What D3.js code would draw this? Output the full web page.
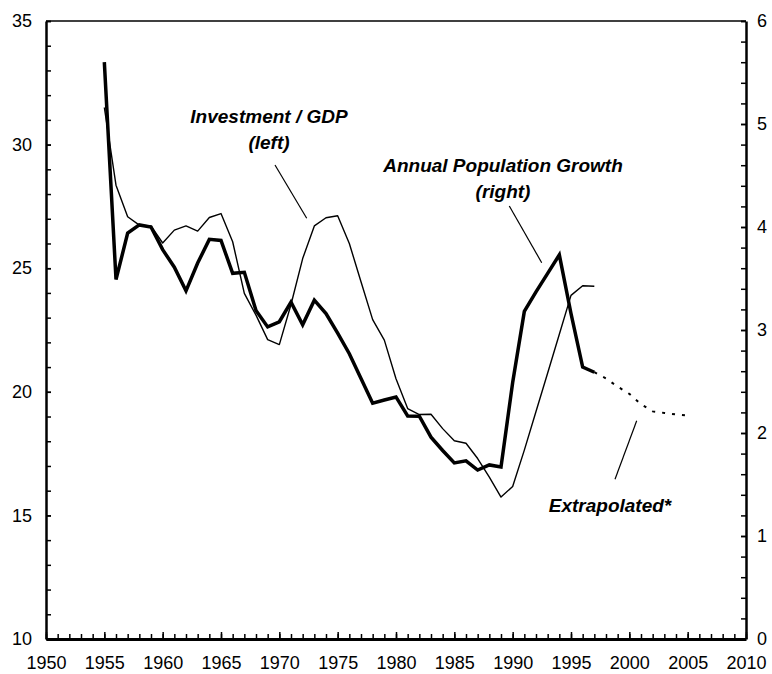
<!DOCTYPE html>
<html>
<head>
<meta charset="utf-8">
<script src="https://cdn.jsdelivr.net/npm/d3@7"></script>
<style>
  body { margin: 0; background: #fff; }
  text { font-family: "Liberation Sans", Arial, sans-serif; }
</style>
</head>
<body>
<div id="chart"></div>
<script>
// Investment / GDP vs annual population growth

const width = 772,
    height = 674,
    margin = ({ top: 21, right: 26, bottom: 35, left: 46 });

// data
const years = d3.range(1955, 1998);
const investment = [31.5, 28.36, 27.08, 26.74, 26.71, 26.02, 26.54, 26.71, 26.5, 27.05,
    27.21, 26.07, 23.98, 23.1, 22.11, 21.91, 23.53, 25.39, 26.71, 27.04,
    27.12, 26.0, 24.45, 22.92, 22.09, 20.53, 19.32, 19.08, 19.09, 18.51,
    18.02, 17.92, 17.3, 16.55, 15.74, 16.17, 17.64, 19.2, 20.76, 22.33,
    23.9, 24.29, 24.27];
const population = [5.6, 3.49, 3.94, 4.02, 4.0, 3.78, 3.61, 3.38, 3.65, 3.88,
    3.87, 3.55, 3.56, 3.19, 3.03, 3.08, 3.27, 3.05, 3.29, 3.16,
    2.97, 2.77, 2.53, 2.29, 2.32, 2.35, 2.165, 2.163, 1.96, 1.83,
    1.71, 1.73, 1.64, 1.69, 1.67, 2.49, 3.18, 3.37, 3.55, 3.73,
    3.16, 2.64, 2.59];
const extraYears = d3.range(1997, 2006);
const extrapolated = [2.59, 2.53, 2.45, 2.38, 2.28, 2.21, 2.195, 2.18, 2.17];

const xTicks = d3.range(1950, 2011, 5);
const leftTicks = [10, 15, 20, 25, 30, 35];
const rightTicks = [0, 1, 2, 3, 4, 5, 6];

const svg = d3.select("#chart")
    .append("svg")
    .attr("width", width)
    .attr("height", height);

const x = d3.scaleLinear()
    .domain([1950, 2010])
    .range([margin.left, width - margin.right]);

const yL = d3.scaleLinear()
    .domain([10, 35])
    .range([height - margin.bottom, margin.top]);

const yR = d3.scaleLinear()
    .domain([0, 6])
    .range([height - margin.bottom, margin.top]);

// top frame line
svg.append("line")
    .attr("x1", x(1950)).attr("x2", x(2010))
    .attr("y1", yL(35)).attr("y2", yL(35))
    .attr("stroke", "#000")
    .attr("stroke-width", 1.5);

function styleAxis(g, w) {
    g.select(".domain").attr("stroke-width", w);
    g.selectAll(".tick line").attr("stroke-width", 1.5);
    g.selectAll("text").attr("font-size", 18).attr("fill", "#000");
}

// left axis: minor ticks then labelled majors
svg.append("g")
    .attr("transform", `translate(${x(1950)},0)`)
    .call(d3.axisLeft(yL).tickValues(d3.range(10, 36)).tickSize(-5).tickSizeOuter(0).tickFormat(""))
    .call(g => styleAxis(g, 2.5));
svg.append("g")
    .attr("transform", `translate(${x(1950)},0)`)
    .call(d3.axisLeft(yL).tickValues(leftTicks).tickSize(-5).tickPadding(14).tickFormat(d3.format("d")))
    .call(g => g.select(".domain").remove())
    .call(g => styleAxis(g, 2.5));

// right axis
svg.append("g")
    .attr("transform", `translate(${x(2010)},0)`)
    .call(d3.axisRight(yR).tickValues(d3.range(0, 6.01, 0.2)).tickSize(-5).tickSizeOuter(0).tickFormat(""))
    .call(g => styleAxis(g, 2.5));
svg.append("g")
    .attr("transform", `translate(${x(2010)},0)`)
    .call(d3.axisRight(yR).tickValues(rightTicks).tickSize(-5).tickPadding(11).tickFormat(d3.format("d")))
    .call(g => g.select(".domain").remove())
    .call(g => styleAxis(g, 2.5));

// bottom axis
svg.append("g")
    .attr("transform", `translate(0,${yL(10)})`)
    .call(d3.axisBottom(x).tickValues(d3.range(1950, 2011)).tickSize(-5).tickSizeOuter(0).tickFormat(""))
    .call(g => styleAxis(g, 3));
svg.append("g")
    .attr("transform", `translate(0,${yL(10)})`)
    .call(d3.axisBottom(x).tickValues(xTicks).tickSize(-7).tickPadding(17).tickFormat(d3.format("d")))
    .call(g => g.select(".domain").remove())
    .call(g => styleAxis(g, 3));

// lines
const invLine = d3.line()
    .x((d, i) => x(years[i]))
    .y(d => yL(d));

const popLine = d3.line()
    .x((d, i) => x(years[i]))
    .y(d => yR(d));

const extLine = d3.line()
    .x((d, i) => x(extraYears[i]))
    .y(d => yR(d));

svg.append("path")
    .datum(investment)
    .attr("d", invLine)
    .attr("fill", "none")
    .attr("stroke", "#000")
    .attr("stroke-width", 1.4)
    .attr("stroke-linejoin", "round");

svg.append("path")
    .datum(population)
    .attr("d", popLine)
    .attr("fill", "none")
    .attr("stroke", "#000")
    .attr("stroke-width", 3.5)
    .attr("stroke-linejoin", "miter");

svg.append("path")
    .datum(extrapolated)
    .attr("d", extLine)
    .attr("fill", "none")
    .attr("stroke", "#000")
    .attr("stroke-width", 2)
    .attr("stroke-dasharray", "3,7");

// annotations
const notes = [
    { lines: ["Investment / GDP", "(left)"], x: 269, y: 123 },
    { lines: ["Annual Population Growth", "(right)"], x: 503, y: 172 },
    { lines: ["Extrapolated*"], x: 610, y: 512 }
];

notes.forEach(n => {
    const t = svg.append("text")
        .attr("x", n.x)
        .attr("y", n.y)
        .attr("text-anchor", "middle")
        .attr("font-size", 19)
        .attr("font-weight", "bold")
        .attr("font-style", "italic");
    n.lines.forEach((l, i) => {
        t.append("tspan")
            .attr("x", n.x)
            .attr("dy", i === 0 ? 0 : 25.5)
            .text(l);
    });
});

const leaders = [
    [275, 165, 306.7, 218.3],
    [509.3, 206, 541.7, 262.7],
    [636.7, 420.7, 615, 479.3]
];

svg.selectAll(".leader")
    .data(leaders)
    .join("line")
    .attr("class", "leader")
    .attr("x1", d => d[0]).attr("y1", d => d[1])
    .attr("x2", d => d[2]).attr("y2", d => d[3])
    .attr("stroke", "#000")
    .attr("stroke-width", 1.2);
</script>
</body>
</html>
